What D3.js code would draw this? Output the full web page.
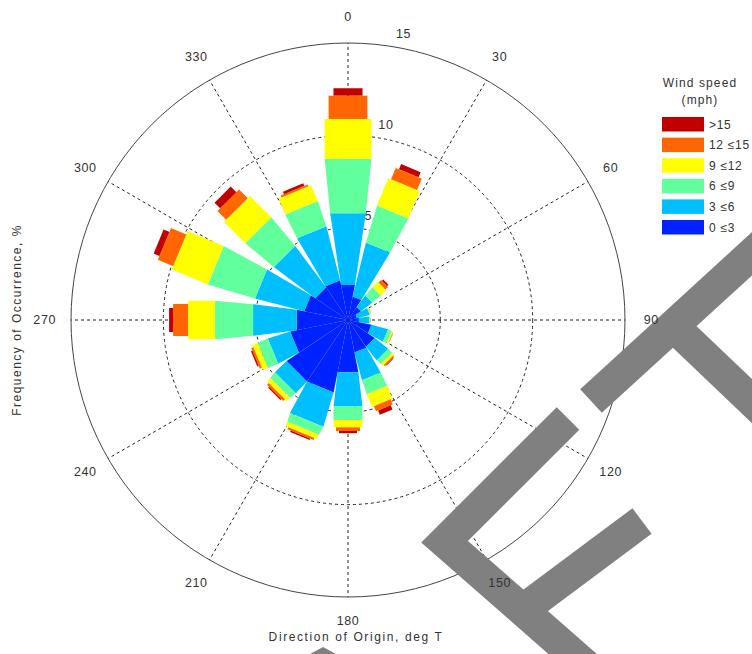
<!DOCTYPE html>
<html>
<head>
<meta charset="utf-8">
<script src="https://cdn.jsdelivr.net/npm/d3@7"></script>
<style>
  body { margin: 0; background: #fff; }
  text { font-family: "Liberation Sans", Arial, sans-serif; fill: #333; }
</style>
</head>
<body>
<svg id="chart" width="752" height="654"></svg>
<script>
// ---------------------------------------------- data ----------------------------------------------

// direction of origin (deg T), 16 sectors
const directions = [0, 22.5, 45, 67.5, 90, 112.5, 135, 157.5, 180, 202.5, 225, 247.5, 270, 292.5, 315, 337.5];

// frequency of occurrence (%) per speed class, one value per direction
const speed0to3   = [1.93, 1.30, 0.85, 0.50, 0.60, 1.30, 1.75, 1.80, 2.89, 4.00, 4.00, 3.20, 2.83, 2.42, 2.13, 2.20];
const speed3to6   = [3.85, 2.95, 0.75, 0.70, 0.55, 0.90, 0.90, 1.50, 1.77, 1.85, 0.80, 1.20, 2.31, 2.68, 2.74, 2.94];
const speed6to9   = [2.94, 2.08, 0.60, 0.05, 0.05, 0.22, 0.30, 0.80, 0.75, 0.50, 0.40, 0.60, 2.06, 2.65, 2.00, 1.44];
const speed9to12  = [2.16, 1.60, 0.40, 0.03, 0.02, 0.08, 0.15, 0.75, 0.40, 0.25, 0.25, 0.30, 1.46, 2.11, 1.63, 0.93];
const speed12to15 = [1.27, 0.67, 0.20, 0.01, 0.01, 0.02, 0.08, 0.30, 0.20, 0.12, 0.13, 0.12, 0.81, 0.90, 0.67, 0.11];
const speedOver15 = [0.40, 0.30, 0.10, 0.01, 0.01, 0.01, 0.04, 0.25, 0.12, 0.08, 0.07, 0.08, 0.22, 0.34, 0.43, 0.15];

// speed classes from calm to strong
const classLabels = ["0 \u22643", "3 \u22646", "6 \u22649", "9 \u226412", "12 \u226415", ">15"];
const classColours = ["#0022ff", "#00bfff", "#62ff9d", "#ffff00", "#ff6600", "#c00000"];

// axis ticks
const angleTicks = d3.range(0, 360, 30);
const ringTicks = [5, 10, 15];

// ---------------------------------------------- chart ----------------------------------------------

const svg = d3.select("#chart");
const cx = 348, cy = 320;
const rMax = 15;

const r = d3.scaleLinear().domain([0, rMax]).range([0, 277]);
const toRad = d3.scaleLinear().domain([0, 360]).range([0, 2 * Math.PI]);

// point at distance `dist` along a bearing, shifted `off` px to its right
function pt(dist, bearing, off) {
    const a = toRad(bearing);
    return [cx + dist * Math.sin(a) + off * Math.cos(a),
            cy - dist * Math.cos(a) + off * Math.sin(a)];
}

const series = [speed0to3, speed3to6, speed6to9, speed9to12, speed12to15, speedOver15];

// grid: dashed rings and spokes
const grid = svg.append("g");
grid.selectAll("circle.ring")
    .data(ringTicks.filter(d => d < rMax))
    .join("circle")
    .attr("cx", cx).attr("cy", cy)
    .attr("r", d => r(d))
    .attr("fill", "none")
    .attr("stroke", "#222")
    .attr("stroke-width", 1)
    .attr("stroke-dasharray", "3,3");

grid.selectAll("line.spoke")
    .data(angleTicks)
    .join("line")
    .attr("x1", cx).attr("y1", cy)
    .attr("x2", d => pt(r(rMax), d, 0)[0])
    .attr("y2", d => pt(r(rMax), d, 0)[1])
    .attr("stroke", "#222")
    .attr("stroke-width", 1)
    .attr("stroke-dasharray", "3,3");

// ring labels (sit under the bars)
grid.selectAll("text.ringLabel")
    .data(ringTicks)
    .join("text")
    .attr("x", d => pt(r(d) + 14, 11, 0)[0])
    .attr("y", d => pt(r(d) + 14, 11, 0)[1])
    .attr("text-anchor", "middle")
    .attr("dominant-baseline", "central")
    .attr("font-size", "12.5px")
    .style("letter-spacing", "0.6px")
    .text(d => d);

// bars: stacked segments, each class a bit narrower than the one below
const halfSector = toRad(11.25);
const bars = svg.append("g");

directions.forEach((dir, i) => {
    const cum = d3.cumsum(series.map(s => s[i]));
    let dIn = 0, hPrev = 0;
    cum.forEach((c, k) => {
        const r1 = r(c);
        let poly;
        if (k === 0) {
            const d = r1 * Math.cos(halfSector), h = r1 * Math.sin(halfSector);
            poly = [pt(0, dir, 0), pt(d, dir, -h), pt(d, dir, h)];
            dIn = d; hPrev = h;
        } else {
            let hIn = hPrev, hOut;
            if (k === 1) hOut = r1 * 0.167;
            else if (k === 2) hOut = r1 * 0.145;
            else if (k === 3) hOut = hIn;
            else if (k === 4) { hIn = hPrev * 0.83; hOut = hIn; }
            else { hIn = hPrev * 0.75; hOut = hIn; }
            poly = [pt(dIn, dir, -hIn), pt(r1, dir, -hOut), pt(r1, dir, hOut), pt(dIn, dir, hIn)];
            dIn = r1; hPrev = hOut;
        }
        bars.append("polygon")
            .attr("points", poly.map(p => p.join(",")).join(" "))
            .attr("fill", classColours[k]);
    });
});

// outer circle
svg.append("circle")
    .attr("cx", cx).attr("cy", cy)
    .attr("r", r(rMax))
    .attr("fill", "none")
    .attr("stroke", "#444")
    .attr("stroke-width", 1);

// axis titles
svg.append("text")
    .attr("x", 356).attr("y", 641)
    .attr("text-anchor", "middle")
    .attr("font-size", "12px")
    .style("letter-spacing", "1.6px")
    .text("Direction of Origin, deg T");

svg.append("text")
    .attr("transform", "translate(21,320) rotate(-90)")
    .attr("text-anchor", "middle")
    .attr("font-size", "12px")
    .style("letter-spacing", "1.5px")
    .text("Frequency of Occurrence, %");

// legend
const legend = svg.append("g");
legend.append("text")
    .attr("x", 700).attr("y", 87)
    .attr("text-anchor", "middle")
    .attr("font-size", "12px")
    .style("letter-spacing", "1.1px")
    .text("Wind speed");
legend.append("text")
    .attr("x", 700).attr("y", 104)
    .attr("text-anchor", "middle")
    .attr("font-size", "12px")
    .style("letter-spacing", "1.1px")
    .text("(mph)");

const legendItems = d3.range(classLabels.length).reverse();
legendItems.forEach((k, j) => {
    legend.append("rect")
        .attr("x", 662).attr("y", 117 + j * 20.6)
        .attr("width", 42).attr("height", 14.5)
        .attr("fill", classColours[k]);
    legend.append("text")
        .attr("x", 709).attr("y", 124.5 + j * 20.6)
        .attr("dominant-baseline", "central")
        .attr("font-size", "12px")
        .style("letter-spacing", "0.7px")
        .text(classLabels[k]);
});

// grey watermark strokes over the chart
const watermark = [
    [[591, 401], [790, 219]],
    [[669, 322], [800, 447]],
    [[568, 418.5], [444.6, 541.7], [600, 678]],
    [[520, 612], [642, 521]]
];
svg.append("g").selectAll("path")
    .data(watermark)
    .join("path")
    .attr("d", d => d3.line()(d))
    .attr("fill", "none")
    .attr("stroke", "#808080")
    .attr("stroke-width", 32)
    .attr("stroke-linejoin", "miter")
    .attr("stroke-linecap", "butt");
svg.append("polygon")
    .attr("points", "310,654 323,647 336,654")
    .attr("fill", "#808080");

// direction labels
svg.append("g").selectAll("text")
    .data(angleTicks)
    .join("text")
    .attr("x", d => pt(r(rMax) * 1.095, d, 0)[0])
    .attr("y", d => pt(r(rMax) * 1.095, d, 0)[1] - (d === 180 ? 2 : 0))
    .attr("text-anchor", "middle")
    .attr("dominant-baseline", "central")
    .attr("font-size", "12.5px")
    .style("letter-spacing", "0.6px")
    .text(d => d);
</script>
</body>
</html>
